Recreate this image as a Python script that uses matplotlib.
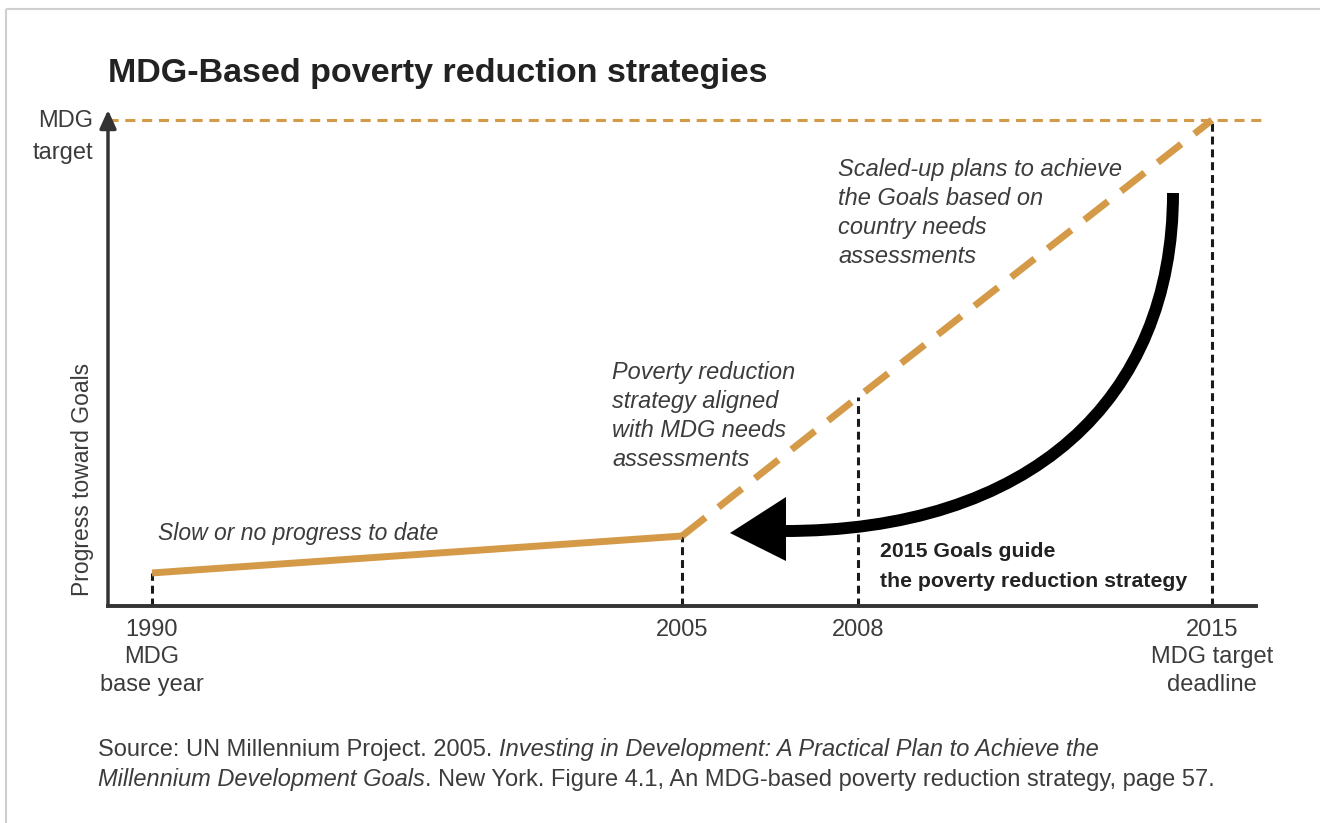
import numpy as np
import matplotlib
matplotlib.use('Agg')
import matplotlib.pyplot as plt
from matplotlib.patches import PathPatch, Polygon, Rectangle
from matplotlib.path import Path
from matplotlib.transforms import Affine2D

W, H = 1320, 823

# Values (progress: 0 = nothing, 100 = MDG target)
years_actual = [1990, 2005]
progress_actual = [6.8, 14.4]
years_plan = [2005, 2008, 2015]
progress_plan = [14.4, 43.0, 100.0]
milestone_years = [1990, 2005, 2008, 2015]
milestone_progress = [6.8, 14.4, 43.0, 100.0]
target_progress = 100
tick_labels = ['1990\nMDG\nbase year', '2005', '2008', '2015\nMDG target\ndeadline']

ORANGE = '#D49A48'
DARK = '#333333'
TEXT = '#3c3c3c'

plt.rcParams['font.family'] = ['Liberation Sans', 'DejaVu Sans']

fig = plt.figure(figsize=(W / 100, H / 100), dpi=100)

# the years are not evenly spaced on the original drawing
axis_px = [152, 682, 858, 1212]
yrs = [1900] + milestone_years + [2100]
pxs = ([axis_px[0] - 90 * (axis_px[1] - axis_px[0]) / 15] + axis_px +
       [axis_px[-1] + 85 * (axis_px[-1] - axis_px[-2]) / 7])


def fwd(x):
    return np.interp(x, yrs, pxs)


def inv(p):
    return np.interp(p, pxs, yrs)


left, right, bottom, top = 108, 1256, 606, 110
ax = fig.add_axes([left / W, (H - bottom) / H, (right - left) / W, (bottom - top) / H])
ax.set_xscale('function', functions=(fwd, inv))
ax.set_xlim(inv(left), inv(right))
ax.set_ylim(0, (bottom - top) / 4.86)
ax.patch.set_alpha(0)

for s in ['top', 'right', 'left']:
    ax.spines[s].set_visible(False)
ax.spines['bottom'].set_color(DARK)
ax.spines['bottom'].set_linewidth(2.8)
ax.set_yticks([])
ax.set_xticks(milestone_years, tick_labels)
ax.tick_params(axis='x', length=0, pad=9.5, labelsize=17, labelcolor=TEXT)
for lab in ax.get_xticklabels():
    lab.set_linespacing(1.31)

# y axis with arrow head
ax.annotate('', xy=(0, 1), xytext=(0, 0), xycoords='axes fraction',
            arrowprops=dict(arrowstyle='-|>,head_length=0.55,head_width=0.25',
                            lw=2.5, color=DARK, shrinkA=0, shrinkB=0, mutation_scale=20))

# MDG target line
ax.axhline(target_progress, xmin=0, xmax=(1265 - left) / (right - left), color=ORANGE,
           lw=2.2, dashes=(3.3, 2.2), clip_on=False, zorder=1)

# milestone drop lines
for yr, pr in zip(milestone_years, milestone_progress):
    ax.plot([yr, yr], [0, pr], color='#1a1a1a', lw=2.2, dashes=(2.6, 1.6), zorder=2)

ax.plot(years_actual, progress_actual, color=ORANGE, lw=5, solid_capstyle='butt', zorder=3)
ax.plot(years_plan, progress_plan, color=ORANGE, lw=5, dashes=(4.3, 2.4),
        dash_capstyle='butt', zorder=3)

# pixel based placement for the annotations
px2fig = Affine2D().scale(1 / W, -1 / H).translate(0, 1) + fig.transFigure

# frame: only the top and left edges show in the original
fig.add_artist(Rectangle((6, 9), 1400, 900, transform=px2fig, fill=False,
                         edgecolor='#cfcfcf', lw=1.5))

# big curved arrow "2015 Goals guide the strategy"
shaft = Path([(1173, 193), (1173, 400), (1030, 532), (782, 531)],
             [Path.MOVETO, Path.CURVE4, Path.CURVE4, Path.CURVE4])
fig.add_artist(PathPatch(shaft, transform=px2fig, facecolor='none', edgecolor='black',
                         lw=8.6, capstyle='butt', zorder=5))
fig.add_artist(Polygon([(730, 533), (786, 497), (786, 561)], closed=True,
                       transform=px2fig, facecolor='black', edgecolor='none', zorder=5))


def lines(x, y0, dy, rows, **kw):
    for i, r in enumerate(rows):
        fig.text(x / W, 1 - (y0 + i * dy) / H, r, va='baseline', **kw)


fig.text(108 / W, 1 - 82 / H, 'MDG-Based poverty reduction strategies', fontsize=24.5,
         fontweight='bold', color='#222222', va='baseline')

lines(93, 127, 32, ['MDG', 'target'], fontsize=17, color=TEXT, ha='right')
fig.text(83 / W, 1 - 479 / H, 'Progress toward Goals', rotation=90, fontsize=16.5,
         color=TEXT, ha='center', va='center')

lines(158, 540, 29, ['Slow or no progress to date'], fontsize=16.5, style='italic', color=TEXT)
lines(612, 379, 29, ['Poverty reduction', 'strategy aligned', 'with MDG needs', 'assessments'],
      fontsize=16.9, style='italic', color=TEXT)
lines(838, 176, 29, ['Scaled-up plans to achieve', 'the Goals based on', 'country needs',
                     'assessments'], fontsize=17, style='italic', color=TEXT)
lines(880, 557, 30, ['2015 Goals guide', 'the poverty reduction strategy'], fontsize=15.3,
      fontweight='bold', color='#222222')

# source note with mixed roman / italic runs
renderer = fig.canvas.get_renderer()
SRC = 17


def text_width(s, style):
    t = fig.text(0, 0, s, fontsize=SRC, style=style)
    w = t.get_window_extent(renderer).width
    t.remove()
    return w


def run(x, y, parts):
    for s, style in parts:
        fig.text(x / W, 1 - y / H, s, fontsize=SRC, style=style, color=TEXT, va='baseline')
        sp = text_width('x x', style) - text_width('xx', style)
        body = s.rstrip()
        x += text_width(body, style) + sp * (len(s) - len(body))


run(98, 756, [('Source: UN Millennium Project. 2005. ', 'normal'),
              ('Investing in Development: A Practical Plan to Achieve the', 'italic')])
run(98, 786, [('Millennium Development Goals', 'italic'),
              ('. New York. Figure 4.1, An MDG-based poverty reduction strategy, page 57.', 'normal')])

fig.savefig('out.png', dpi=100)
